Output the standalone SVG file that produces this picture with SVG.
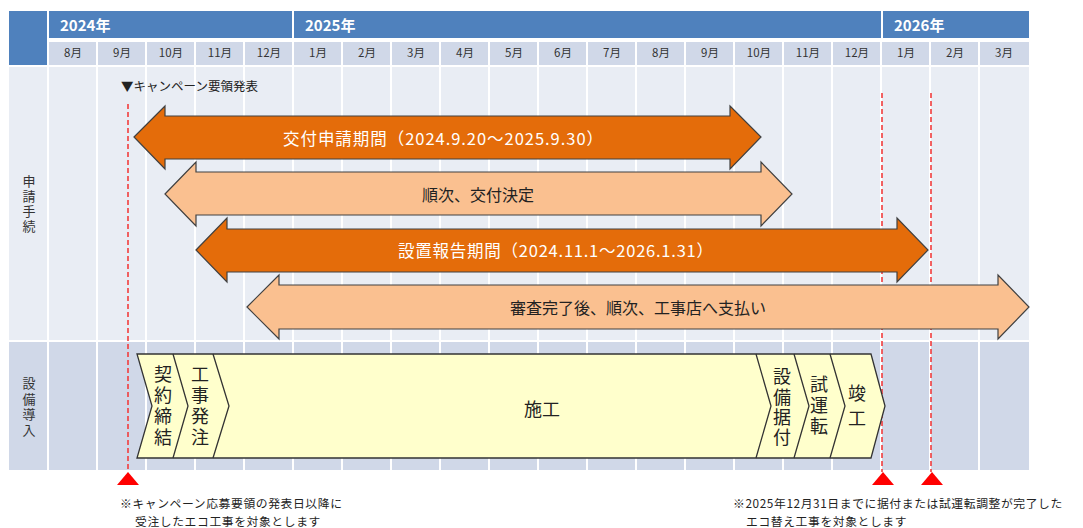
<svg xmlns="http://www.w3.org/2000/svg" width="1083" height="528" viewBox="0 0 1083 528">
<style>
text{font-family:"Noto Sans CJK JP","Noto Sans",sans-serif;}
.yr{fill:#fff;font-size:15px;font-weight:bold;}
.mo{fill:#333;font-size:11.5px;text-anchor:middle;}
.vl{fill:#333;font-size:13px;text-anchor:middle;writing-mode:vertical-rl;letter-spacing:2px;}
.arD{fill:#E46C0A;stroke:#404040;stroke-width:1.2;}
.arL{fill:#FAC090;stroke:#404040;stroke-width:1.2;}
.tD{fill:#fff;font-size:16.5px;dominant-baseline:central;}
.tL{fill:#222;font-size:16px;text-anchor:middle;dominant-baseline:central;}
.ch{fill:#FFFFCC;stroke:#333;stroke-width:1.3;}
.sep{fill:none;stroke:#333;stroke-width:1.3;}
.ct{fill:#222;font-size:18px;text-anchor:middle;dominant-baseline:central;}
.cv{fill:#222;font-size:18px;text-anchor:middle;writing-mode:vertical-rl;}
.dash{stroke:#F23C3C;stroke-width:1.6;stroke-dasharray:5 3;fill:none;}
.tri{fill:#FF0000;}
.note{fill:#222;font-size:11.8px;letter-spacing:0.6px;}
.wl{stroke:#fff;stroke-width:2;}
</style>
<rect width="1083" height="528" fill="#fff"/>
<g id="grid">
<rect x="9" y="11" width="38" height="54" fill="#4F81BD"/>
<rect x="49" y="11" width="243" height="27" fill="#4F81BD"/>
<rect x="294" y="11" width="587" height="27" fill="#4F81BD"/>
<rect x="883" y="11" width="146" height="27" fill="#4F81BD"/>
<rect x="49" y="42" width="980" height="23" fill="#D0D8E8"/>
<rect x="9" y="67" width="1020" height="273" fill="#E9EDF4"/>
<rect x="9" y="342" width="1020" height="128" fill="#D0D8E8"/>
<g class="wl">
<line x1="48" y1="42" x2="48" y2="470"/><line x1="97" y1="42" x2="97" y2="470"/><line x1="146" y1="42" x2="146" y2="470"/><line x1="195" y1="42" x2="195" y2="470"/><line x1="244" y1="42" x2="244" y2="470"/><line x1="293" y1="42" x2="293" y2="470"/><line x1="342" y1="42" x2="342" y2="470"/><line x1="391" y1="42" x2="391" y2="470"/><line x1="440" y1="42" x2="440" y2="470"/><line x1="489" y1="42" x2="489" y2="470"/><line x1="538" y1="42" x2="538" y2="470"/><line x1="587" y1="42" x2="587" y2="470"/><line x1="636" y1="42" x2="636" y2="470"/><line x1="685" y1="42" x2="685" y2="470"/><line x1="734" y1="42" x2="734" y2="470"/><line x1="783" y1="42" x2="783" y2="470"/><line x1="832" y1="42" x2="832" y2="470"/><line x1="881" y1="42" x2="881" y2="470"/><line x1="930" y1="42" x2="930" y2="470"/><line x1="979" y1="42" x2="979" y2="470"/>
</g>
<text class="yr" x="60" y="31">2024年</text>
<text class="yr" x="305" y="31">2025年</text>
<text class="yr" x="894" y="31">2026年</text>
<g class="mo">
<text x="73" y="57">8月</text><text x="122" y="57">9月</text><text x="171" y="57">10月</text><text x="220" y="57">11月</text><text x="269" y="57">12月</text><text x="318" y="57">1月</text><text x="367" y="57">2月</text><text x="416" y="57">3月</text><text x="465" y="57">4月</text><text x="514" y="57">5月</text><text x="563" y="57">6月</text><text x="612" y="57">7月</text><text x="661" y="57">8月</text><text x="710" y="57">9月</text><text x="759" y="57">10月</text><text x="808" y="57">11月</text><text x="857" y="57">12月</text><text x="906" y="57">1月</text><text x="955" y="57">2月</text><text x="1004" y="57">3月</text>
</g>
</g>
<g id="label-shinsei"><text class="vl" x="29" y="205">申請手続</text></g>
<g id="label-setsubi"><text class="vl" x="29" y="408" style="letter-spacing:2.7px">設備導入</text></g>
<g id="marker-text"><text x="121" y="91" style="fill:#222;font-size:12.5px">▼キャンペーン要領発表</text></g>
<g id="connectors">
<line class="dash" x1="128" y1="104" x2="128" y2="472"/>
<line class="dash" x1="882" y1="93" x2="882" y2="472"/>
<line class="dash" x1="931" y1="93" x2="931" y2="472"/>
<polygon class="tri" points="117,485 128,472 139,485"/>
<polygon class="tri" points="872,485 883,472 894,485"/>
<polygon class="tri" points="921,485 932,472 943,485"/>
</g>
<g id="arrow-koufu-shinsei">
<polygon class="arD" points="134,137 165,106 165,116 730,116 730,106 761,137 730,169 730,159 165,159 165,169"/>
<text class="tD" x="283" y="138" textLength="320" lengthAdjust="spacing">交付申請期間（2024.9.20～2025.9.30）</text>
</g>
<g id="arrow-koufu-kettei">
<polygon class="arL" points="165,194 196,162 196,172 761,172 761,162 792,194 761,226 761,215 196,215 196,226"/>
<text class="tL" x="478" y="194">順次、交付決定</text>
</g>
<g id="arrow-setchi-houkoku">
<polygon class="arD" points="196,250 227,218 227,229 897,229 897,218 928,250 897,282 897,272 227,272 227,282"/>
<text class="tD" x="398" y="250" textLength="315" lengthAdjust="spacing">設置報告期間（2024.11.1～2026.1.31）</text>
</g>
<g id="arrow-shiharai">
<polygon class="arL" points="247,307 279,275 279,285 998,285 998,275 1029,307 998,339 998,329 279,329 279,339"/>
<text class="tL" x="638" y="307">審査完了後、順次、工事店へ支払い</text>
</g>
<g id="construction">
<path class="ch" d="M137,354 L871,354 L885,406 L871,458 L137,458 L152,406 Z"/>
<polyline class="sep" points="173,354 188,406 173,458"/>
<polyline class="sep" points="213,354 229,406 213,458"/>
<polyline class="sep" points="756,354 771,406 756,458"/>
<polyline class="sep" points="794,354 809,406 794,458"/>
<polyline class="sep" points="830,354 845,406 830,458"/>
<text class="cv" x="163" y="407" style="letter-spacing:2.7px">契約締結</text>
<text class="cv" x="200" y="407" style="letter-spacing:2.7px">工事発注</text>
<text class="ct" x="542" y="408">施工</text>
<text class="cv" x="782" y="408" style="letter-spacing:2.3px">設備据付</text>
<text class="cv" x="819" y="407" style="letter-spacing:3px">試運転</text>
<text class="cv" x="857" y="409" style="letter-spacing:7px">竣工</text>
</g>
<g id="notes">
<text class="note"><tspan x="120" y="508">※キャンペーン応募要領の発表日以降に</tspan><tspan x="135" y="525.5">受注したエコ工事を対象とします</tspan></text>
<text class="note"><tspan x="733" y="508">※2025年12月31日までに据付または試運転調整が完了した</tspan><tspan x="746" y="525.5">エコ替え工事を対象とします</tspan></text>
</g>
</svg>
